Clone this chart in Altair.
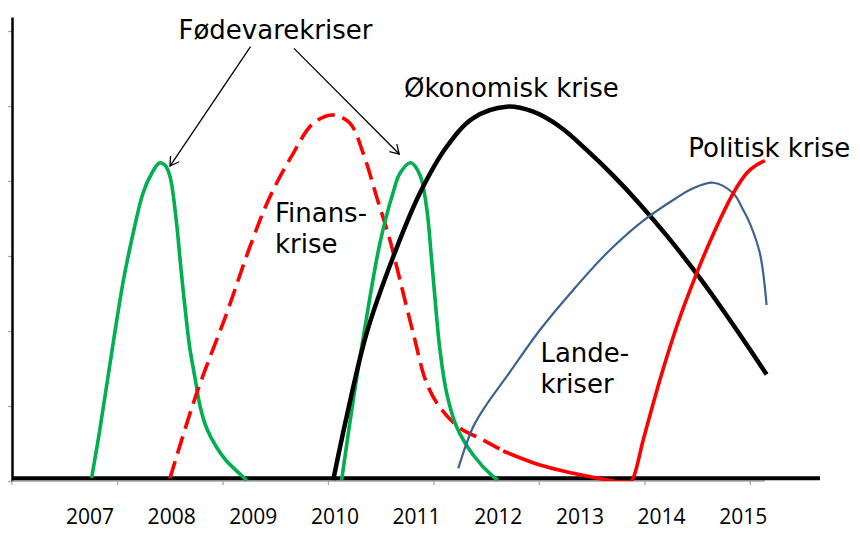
import math
import altair as alt
import pandas as pd

# ---------------- data (x in years, y in index units; 1 unit = one y-axis tick) -------------
food1_x = [2007.02, 2007.12, 2007.29, 2007.41, 2007.53, 2007.65, 2007.755, 2007.85, 2007.92,
           2007.98, 2008.06, 2008.10, 2008.14, 2008.18, 2008.22, 2008.29, 2008.35, 2008.43,
           2008.55, 2008.67, 2008.84, 2008.92]
food1_y = [0.04, 0.68, 1.88, 2.68, 3.31, 3.84, 4.10, 4.24, 4.21,
           4.06, 3.44, 2.99, 2.55, 2.15, 1.79, 1.35, 0.99, 0.70,
           0.45, 0.27, 0.09, 0.01]

fin_x = [2007.98, 2008.306, 2008.674, 2008.959, 2009.204, 2009.489, 2009.734, 2009.979,
         2010.184, 2010.346, 2010.51, 2010.673, 2010.796, 2010.959, 2011.123, 2011.286,
         2011.53, 2011.816, 2012.06]
fin_y = [0.036, 1.169, 2.236, 3.124, 3.791, 4.369, 4.769, 4.88,
         4.769, 4.369, 3.791, 3.213, 2.68, 1.969, 1.303, 0.98,
         0.707, 0.547, 0.40]

food2_x = [2010.082, 2010.224, 2010.388, 2010.551, 2010.714, 2010.796, 2010.927, 2011.041,
           2011.123, 2011.184, 2011.245, 2011.286, 2011.368, 2011.49, 2011.693, 2011.938, 2011.996]
food2_y = [0.013, 1.08, 2.187, 3.173, 3.853, 4.103, 4.244, 4.08,
           3.64, 2.947, 2.187, 1.747, 1.173, 0.724, 0.347, 0.057, 0.013]

eco_x = [2009.979, 2010.143, 2010.388, 2010.714, 2011.041, 2011.368, 2011.693, 2012.102,
         2012.428, 2012.755, 2013.082, 2013.408, 2013.734, 2014.061, 2014.387, 2014.714,
         2015.041, 2015.286]
eco_y = [0.013, 0.857, 1.973, 2.991, 3.84, 4.457, 4.84, 4.991,
         4.924, 4.724, 4.415, 4.071, 3.691, 3.275, 2.824, 2.337,
         1.821, 1.421]

land_x = [2011.51, 2011.693, 2011.857, 2012.102, 2012.51, 2012.918, 2013.327, 2013.734,
          2014.142, 2014.387, 2014.632, 2014.877, 2015.0, 2015.081, 2015.204, 2015.286]
land_y = [0.169, 0.724, 1.02, 1.391, 2.013, 2.547, 3.036, 3.436,
          3.747, 3.903, 3.977, 3.836, 3.613, 3.436, 3.036, 2.347]

pol_x = [2012.06, 2012.51, 2012.918, 2013.327, 2013.47, 2013.62, 2013.65, 2013.775,
         2013.979, 2014.184, 2014.429, 2014.674, 2014.877, 2015.041, 2015.265]
pol_y = [0.40, 0.213, 0.103, 0.015, -0.01, -0.01, 0.036, 0.547,
         1.347, 2.057, 2.769, 3.391, 3.836, 4.103, 4.271]

years = [2007, 2008, 2009, 2010, 2011, 2012, 2013, 2014, 2015]
y_ticks = [0, 1, 2, 3, 4, 5, 6]
x_ticks = [2006.045, 2007.337, 2008.629, 2009.920, 2011.212, 2012.504, 2013.796, 2015.087]
x_axis_span = [2006.045, 2015.265]
baseline_span = [2006.045, 2015.94]
baseline_level = 0.036

annot_text = ["Fødevarekriser", "Økonomisk krise", "Finans-", "krise", "Lande-", "kriser",
              "Politisk krise"]
annot_x = [2008.084, 2010.845, 2009.265, 2009.265, 2012.516, 2012.516, 2014.328]
annot_y = [5.889, 5.124, 3.457, 3.044, 1.591, 1.169, 4.324]

arrow_start_x = [2008.966, 2009.498]
arrow_start_y = [5.791, 5.769]
arrow_tip_x = [2007.98, 2010.787]
arrow_tip_y = [4.20, 4.36]

# ---------------- layout / styles ----------------
W, H = 808, 464
XD = [2006.045, 2015.94]
YD = [0, 6.187]
PX_YEAR = W / (XD[1] - XD[0])
PX_UNIT = H / (YD[1] - YD[0])

xs = alt.Scale(domain=XD, nice=False, zero=False)
ys = alt.Scale(domain=YD, nice=False, zero=False)
yaxis = alt.Axis(values=y_ticks, labels=False, title=None, grid=False,
                 domainColor="black", domainWidth=2.5, tickColor="#A6A6A6",
                 tickSize=6, tickWidth=1.3)


def X(f):
    return alt.X(f, type="quantitative", scale=xs, axis=None)


def Y(f):
    return alt.Y(f, type="quantitative", scale=ys, axis=yaxis)


def series(xv, yv):
    return pd.DataFrame({"x": xv, "y": yv})


def curve(xv, yv, color, width, dash=None, interp="catmull-rom"):
    kw = dict(color=color, strokeWidth=width, interpolate=interp, clip=True)
    if dash:
        kw["strokeDash"] = dash
    return alt.Chart(series(xv, yv)).mark_line(**kw).encode(x=X("x"), y=Y("y"),
                                                          order="x:Q")


axis_line = alt.Chart(pd.DataFrame({"x": [x_axis_span[0]], "x2": [x_axis_span[1]], "y": [0]})
                      ).mark_rule(color="#A6A6A6", strokeWidth=1.3).encode(
    x=X("x"), x2="x2", y=Y("y"))

tick_marks = alt.Chart(pd.DataFrame({"x": x_ticks, "y": [0] * len(x_ticks)})).mark_rule(
    color="#A6A6A6", strokeWidth=1.3).encode(x=X("x"), y=Y("y"), y2=alt.value(H + 4))

baseline = alt.Chart(pd.DataFrame({"x": [baseline_span[0]], "x2": [baseline_span[1]],
                                   "y": [baseline_level]})).mark_rule(
    color="black", strokeWidth=4).encode(x=X("x"), x2="x2", y=Y("y"))

GREEN = "#00B050"
RED = "#FF0000"
BLUE = "#3E6290"

food1 = curve(food1_x, food1_y, GREEN, 3.6)
food2 = curve(food2_x, food2_y, GREEN, 3.6)
fin = curve(fin_x, fin_y, RED, 3.6, dash=[18, 8])
eco = curve(eco_x, eco_y, "black", 4.5)
land = curve(land_x, land_y, BLUE, 2.2)
pol = curve(pol_x, pol_y, RED, 3.6, interp="monotone")

arrow_rows = []
for i in range(len(arrow_tip_x)):
    arrow_rows.append({"id": i, "x": arrow_start_x[i], "y": arrow_start_y[i]})
    arrow_rows.append({"id": i, "x": arrow_tip_x[i], "y": arrow_tip_y[i]})
arrow_lines = alt.Chart(pd.DataFrame(arrow_rows)).mark_line(
    color="black", strokeWidth=1.3).encode(x=X("x"), y=Y("y"), detail="id:N")

angles = []
for i in range(len(arrow_tip_x)):
    dx = (arrow_tip_x[i] - arrow_start_x[i]) * PX_YEAR
    dy = -(arrow_tip_y[i] - arrow_start_y[i]) * PX_UNIT
    angles.append(math.degrees(math.atan2(dy, dx)) % 360)
heads = alt.Chart(pd.DataFrame({"x": arrow_tip_x, "y": arrow_tip_y, "a": angles})).mark_point(
    shape="M -1 -0.6 L 0 0 L -1 0.6", filled=False, size=300, strokeWidth=1.3,
    color="black", opacity=1).encode(x=X("x"), y=Y("y"),
                                     angle=alt.Angle("a:Q", scale=None))

annots = alt.Chart(pd.DataFrame({"t": annot_text, "x": annot_x, "y": annot_y})).mark_text(
    align="left", baseline="alphabetic", font="DejaVu Sans", fontSize=26,
    color="black").encode(x=X("x"), y=Y("y"), text="t:N")

year_labels = alt.Chart(pd.DataFrame({"x": years, "t": [str(v) for v in years]})).mark_text(
    align="center", baseline="alphabetic", font="Open Sans", fontSize=21,
    color="black").encode(x=X("x"), y=alt.value(H + 43), text="t:N")

chart = alt.layer(axis_line, tick_marks, baseline, food1, fin, food2, eco, land, pol,
                  arrow_lines, heads, annots, year_labels).properties(
    width=W, height=H,
    padding={"left": 4, "top": 9, "right": 32, "bottom": 50},
    autosize=alt.AutoSizeParams(type="none"),
    background="white",
).configure_view(stroke=None)

chart.save("out.html", embed_options={"renderer": "svg", "actions": False})
